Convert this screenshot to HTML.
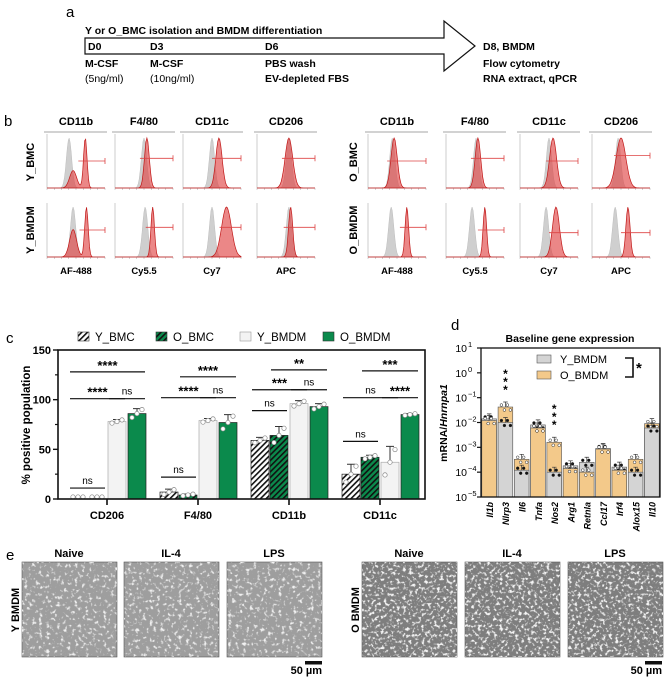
<!DOCTYPE html>
<html><head><meta charset="utf-8"><style>
body{margin:0;background:#fff;}
svg{display:block;font-family:"Liberation Sans",Arial,sans-serif;}
.b{font-weight:bold}
</style></head><body>
<svg id="fig" width="669" height="685" viewBox="0 0 669 685" xmlns="http://www.w3.org/2000/svg">
<defs>
<pattern id="hatchW" patternUnits="userSpaceOnUse" width="4" height="4" patternTransform="rotate(45)"><rect width="4" height="4" fill="#fff"/><rect width="1.6" height="4" fill="#111"/></pattern>
<pattern id="hatchG" patternUnits="userSpaceOnUse" width="4" height="4" patternTransform="rotate(45)"><rect width="4" height="4" fill="#0b8a4c"/><rect width="1.6" height="4" fill="#111"/></pattern>
<filter id="cellsY" x="0" y="0" width="1" height="1"><feTurbulence type="fractalNoise" baseFrequency="0.28" numOctaves="2" seed="3"/><feColorMatrix type="matrix" values="0 0 0 0 0.88  0 0 0 0 0.88  0 0 0 0 0.88  4.5 0 0 0 -2.5"/><feComposite in2="SourceGraphic" operator="in"/></filter>
<filter id="cellsO" x="0" y="0" width="1" height="1"><feTurbulence type="fractalNoise" baseFrequency="0.32" numOctaves="2" seed="7"/><feColorMatrix type="matrix" values="0 0 0 0 0.9  0 0 0 0 0.9  0 0 0 0 0.9  5 0 0 0 -2.6"/><feComposite in2="SourceGraphic" operator="in"/></filter>
</defs>

<g>
<text x="66" y="17" font-size="15">a</text>
<text x="85" y="34" font-size="10.5" class="b">Y or O_BMC isolation and BMDM differentiation</text>
<path d="M85,38 L444,38 L444,21 L475,46 L444,71 L444,54 L85,54 Z" fill="#fff" stroke="#111" stroke-width="1.2"/>
<g font-size="10.5" class="b">
<text x="88" y="50">D0</text><text x="150" y="50">D3</text><text x="265" y="50">D6</text><text x="483" y="50">D8, BMDM</text>
<text x="85" y="67">M-CSF</text><text x="150" y="67">M-CSF</text><text x="265" y="67">PBS wash</text><text x="483" y="67">Flow cytometry</text>
<text x="85" y="82" font-weight="normal">(5ng/ml)</text><text x="150" y="82" font-weight="normal">(10ng/ml)</text><text x="265" y="82">EV-depleted FBS</text><text x="483" y="82">RNA extract, qPCR</text>
</g>
</g>

<g id="panelB">
<text x="4" y="126" font-size="15">b</text>
</g>
<g id="panelC">
<text x="6" y="343" font-size="15">c</text>
</g>
<g id="panelD">
<text x="451" y="330" font-size="15">d</text>
</g>
<g id="panelE">
<text x="6" y="560" font-size="15">e</text>
</g>
</svg>
<script>
const NS="http://www.w3.org/2000/svg";
function mk(parent,tag,attrs,txt){const e=document.createElementNS(NS,tag);for(const k in attrs)e.setAttribute(k,attrs[k]);if(txt!==undefined)e.textContent=txt;parent.appendChild(e);return e;}

/* ---------- Panel b ---------- */
const bMarkers=["CD11b","F4/80","CD11c","CD206"];
const bChannels=["AF-488","Cy5.5","Cy7","APC"];
const bRowsLeft=["Y_BMC","Y_BMDM"];
const bRowsRight=["O_BMC","O_BMDM"];
const bGrayPos=[[0.38,0.5,0.5,0.55],[0.45,0.52,0.5,0.55],[0.42,0.52,0.5,0.45],[0.4,0.45,0.45,0.4]];
const bRedPos=[[0.66,0.55,0.62,0.55],[0.68,0.65,0.75,0.58],[0.45,0.55,0.57,0.5],[0.67,0.67,0.62,0.62]];
const bRedWidth=[[0.05,0.07,0.09,0.11],[0.05,0.05,0.14,0.06],[0.09,0.08,0.1,0.14],[0.05,0.05,0.1,0.06]];
const bRedSecond=[[0.45,0.35],null,null,null,[0.45,0.55],null,null,null];
const bGateY=[[0.5,0.45,0.45,0.45],[0.5,0.45,0.45,0.45],[0.5,0.45,0.5,0.4],[0.45,0.5,0.55,0.55]];
const bG=document.getElementById("panelB");
function hist(x0,y0,w,h,gp,rp,rw,sec,gate,key){
  const g=mk(bG,"g",{});
  
  
  mk(g,"line",{x1:x0,y1:y0,x2:x0,y2:y0+h,stroke:"#aaa","stroke-width":0.6});
  mk(g,"line",{x1:x0,y1:y0+h,x2:x0+w,y2:y0+h,stroke:"#aaa","stroke-width":0.6});
  for(let i=0;i<=8;i++)mk(g,"line",{x1:x0+i*w/8,y1:y0+h,x2:x0+i*w/8,y2:y0+h+2,stroke:"#aaa","stroke-width":0.5});
  function curve(fn){let d=`M${x0},${y0+h}`;for(let i=0;i<=60;i++){const t=i/60;d+=` L${(x0+t*w).toFixed(1)},${(y0+h-fn(t)*(h-4)).toFixed(1)}`;}return d+` L${x0+w},${y0+h} Z`;}
  mk(g,"path",{d:curve(t=>Math.exp(-((t-gp)**2)/(2*0.045**2))),fill:"#cfcfcf",stroke:"#bdbdbd","stroke-width":0.5});
  mk(g,"path",{d:curve(t=>{let v=Math.exp(-((t-rp)**2)/(2*rw**2));if(sec)v+=sec[1]*Math.exp(-((t-sec[0])**2)/(2*0.06**2));return Math.min(v,1);}),fill:"rgba(225,70,70,0.65)",stroke:"#c01818","stroke-width":0.7});
  const gy=y0+h*gate;
  mk(g,"line",{x1:x0+w*(rp-0.12),y1:gy,x2:x0+w,y2:gy,stroke:"#d44","stroke-width":0.8});
  mk(g,"line",{x1:x0+w,y1:gy-3,x2:x0+w,y2:gy+3,stroke:"#d44","stroke-width":0.8});
}
function bHalf(xs,rows,rowLabelX,offIdx){
  bMarkers.forEach((m,c)=>{
    const t=mk(bG,"text",{x:xs[c]+29,y:125,"font-size":11,"text-anchor":"middle","font-weight":"bold"},m);
    
    
    const l=mk(bG,"line",{x1:xs[c]-3,y1:132,x2:xs[c]+60,y2:132,stroke:"#888","stroke-width":0.8});
    
    
    const ch=mk(bG,"text",{x:xs[c]+29,y:274,"font-size":9.5,"text-anchor":"middle","font-weight":"bold"},bChannels[c]);
    
    
  });
  rows.forEach((r,ri)=>{
    const cy=ri===0?162:230;
    const t=mk(bG,"text",{x:rowLabelX,y:cy,"font-size":11,"text-anchor":"middle","font-weight":"bold",transform:`rotate(-90 ${rowLabelX} ${cy})`},r);
    
    
    const y0=ri===0?134:203;
    bMarkers.forEach((m,c)=>{
      const k=offIdx+ri;
      hist(xs[c],y0,58,54,bGrayPos[k][c],bRedPos[k][c],bRedWidth[k][c]*0.6,bRedSecond[k*4+c]||null,bGateY[k][c],'histogram-'+r.toLowerCase()+'-'+m.toLowerCase().replace('/',''));
    });
  });
}
bHalf([47,115,183,257],bRowsLeft,34,0);
bHalf([368,446,520,592],bRowsRight,357,2);

/* ---------- Panel c ---------- */
const cCategories=["CD206","F4/80","CD11b","CD11c"];
const cSeries=["Y_BMC","O_BMC","Y_BMDM","O_BMDM"];
const cYBMC=[0,7,59,25];
const cOBMC=[0,4,64,42];
const cYBMDM=[78,79,96,37];
const cOBMDM=[86,77,93,85];
const cErrYBMC=[0,3,3,10];
const cErrOBMC=[0,1,9,2];
const cErrYBMDM=[2,2,3,16];
const cErrOBMDM=[5,8,3,1];
const cYTicks=[0,50,100,150];
const cG=document.getElementById("panelC");
const cy0=499, cy1=350, cx0=58, cx1=425;
const cY=v=>cy0-(v/150)*(cy0-cy1);
const cX=i=>107+i*91;
const cOff=[-38,-19,1,21];
const cFills=["url(#hatchW)","url(#hatchG)","#f3f3f3","#0b8a4c"];
const cVals=[cYBMC,cOBMC,cYBMDM,cOBMDM];
const cErrs=[cErrYBMC,cErrOBMC,cErrYBMDM,cErrOBMDM];
cSeries.forEach((s,i)=>{
  const lx=[78,156,240,323][i];
  const r=mk(cG,"rect",{x:lx,y:332,width:11,height:9,fill:cFills[i],stroke:i===2?"#999":"#333","stroke-width":0.6});
  
  
  const t=mk(cG,"text",{x:lx+17,y:341,"font-size":11.5},s);
  
  
});
cCategories.forEach((cat,ci)=>{
  cVals.forEach((arr,si)=>{
    const v=arr[ci],x=cX(ci)+cOff[si];
    const top=cY(v+cErrs[si][ci]);
    if(cErrs[si][ci]>0){
      const e=mk(cG,"path",{d:`M${x+9},${cY(v)} V${top} M${x+5},${top} H${x+13}`,stroke:"#333","stroke-width":1,fill:"none"});
      
      
    }
    const r=mk(cG,"rect",{x:x,y:cY(v),width:18,height:Math.max(0,cy0-cY(v)),fill:cFills[si],stroke:si===2?"#aaa":"#222","stroke-width":0.7});
    
    
    [-5,0,5].forEach((dx,k)=>{
      const c=mk(cG,"circle",{cx:x+9+dx,cy:cY(v+(k-1)*cErrs[si][ci]*0.8)-(v===0?2:0),r:2.2,fill:"#fff",stroke:"#888","stroke-width":0.7});
      
      
    });
  });
});
const cf=mk(cG,"rect",{x:cx0,y:cy1,width:cx1-cx0,height:cy0-cy1,fill:"none",stroke:"#111","stroke-width":1.6});


cYTicks.forEach(t=>{
  const yy=cY(t);
  const l=mk(cG,"line",{x1:cx0-5,y1:yy,x2:cx0,y2:yy,stroke:"#111","stroke-width":1.4});
  
  
  const tx=mk(cG,"text",{x:cx0-7,y:yy+4,"font-size":11,"text-anchor":"end","font-weight":"bold"},t);
  
  
});
[25,75,125].forEach(t=>{mk(cG,"line",{x1:cx0-3,y1:cY(t),x2:cx0,y2:cY(t),stroke:"#111","stroke-width":1.2});});
cCategories.forEach((cat,ci)=>{
  mk(cG,"line",{x1:cX(ci),y1:cy0,x2:cX(ci),y2:cy0+6,stroke:"#111","stroke-width":1.6});
  const t=mk(cG,"text",{x:cX(ci),y:cy0+20,"font-size":11,"text-anchor":"middle","font-weight":"bold"},cat);
  
  
});
const yt=mk(cG,"text",{x:30,y:425,"font-size":11.5,"text-anchor":"middle","font-weight":"bold",transform:"rotate(-90 30 425)"},"% positive population");


const cSig=[[0,0,3,128,"****"],[0,0,2,101,"****"],[0,2,3,101,"ns"],[0,0,1,11,"ns"],
            [1,1,3,123,"****"],[1,0,2,102,"****"],[1,2,3,102,"ns"],[1,0,1,22,"ns"],
            [2,1,3,130,"**"],[2,0,2,110,"***"],[2,2,3,110,"ns"],[2,0,1,89,"ns"],
            [3,1,3,129,"***"],[3,0,2,102,"ns"],[3,2,3,102,"****"],[3,0,1,58,"ns"]];
cSig.forEach(s=>{
  const xa=cX(s[0])+cOff[s[1]]+1, xb=cX(s[0])+cOff[s[2]]+17, yy=cY(s[3]);
  const l=mk(cG,"line",{x1:xa,y1:yy,x2:xb,y2:yy,stroke:"#111","stroke-width":1.2});
  
  
  const star=s[4]!=="ns";
  const t=mk(cG,"text",{x:(xa+xb)/2,y:yy-(star?2:4),"font-size":star?13:10,"text-anchor":"middle","font-weight":star?"bold":"normal"},s[4]);
  
  
});

/* ---------- Panel d ---------- */
const dGenes=["Il1b","Nlrp3","Il6","Tnfa","Nos2","Arg1","Retnla","Ccl17","Irf4","Alox15","Il10"];
const dYBMDM=[0.014,0.010,0.00012,0.008,0.0001,0.00018,0.00025,0.0009,0.00016,0.0001,0.006];
const dOBMDM=[0.012,0.042,0.00033,0.006,0.0016,0.00014,0.0001,0.00085,0.00012,0.00033,0.009];
const dYTickExp=[1,0,-1,-2,-3,-4,-5];
const dG=document.getElementById("panelD");
const dx0=481,dx1=660,dyTop=348,dyBot=497;
const dY=v=>dyTop+(1-Math.log10(v))*((dyBot-dyTop)/6);
const dW=(dx1-dx0)/dGenes.length;
const tt=mk(dG,"text",{x:570,y:342,"font-size":10.5,"text-anchor":"middle","font-weight":"bold"},"Baseline gene expression");


dGenes.forEach((g,i)=>{
  const x=dx0+i*dW+0.8;
  const pair=[["#d4d4d4",dYBMDM[i],"y_bmdm"],["#f3c98a",dOBMDM[i],"o_bmdm"]].sort((a,b)=>b[1]-a[1]);
  pair.forEach(p=>{
    const r=mk(dG,"rect",{x:x,y:dY(p[1]),width:dW-1.6,height:dyBot-dY(p[1]),fill:p[0],stroke:"#555","stroke-width":0.6});
    
    
    const ex=dY(p[1])-5;
    mk(dG,"path",{d:`M${x+dW/2-0.8},${dY(p[1])} V${ex} M${x+dW/2-3},${ex} H${x+dW/2+1.5}`,stroke:"#333","stroke-width":0.7,fill:"none"});
    [-4,-1,2,5].forEach((dx,k)=>{
      const c=mk(dG,"circle",{cx:x+dW/2-0.8+dx,cy:dY(p[1])+(k%2?3:-2),r:1.4,fill:p[2]==="y_bmdm"?"#111":"#fff",stroke:"#222","stroke-width":0.5});
      
      
    });
  });
  const lx=x+dW/2+3, ly=dyBot+5;
  const t=mk(dG,"text",{x:lx,y:ly,"font-size":9,"font-style":"italic","font-weight":"bold","text-anchor":"end",transform:`rotate(-90 ${lx} ${ly})`},g);
  
  
});
const df=mk(dG,"rect",{x:dx0,y:dyTop,width:dx1-dx0,height:dyBot-dyTop,fill:"none",stroke:"#111","stroke-width":1.3});


dYTickExp.forEach(e=>{
  const yy=dY(Math.pow(10,e));
  mk(dG,"line",{x1:dx0-4,y1:yy,x2:dx0,y2:yy,stroke:"#111","stroke-width":1.2});
  const t=mk(dG,"text",{x:dx0-14,y:yy+4,"font-size":10.5,"text-anchor":"end"},"10");
  
  
  mk(dG,"text",{x:dx0-13,y:yy-1,"font-size":7.5},e===1?"1":e===0?"0":"\u2212"+(-e));
});
const dyt=mk(dG,"text",{x:447,y:423,"font-size":10.5,"text-anchor":"middle","font-weight":"bold",transform:"rotate(-90 447 423)"});


dyt.innerHTML='mRNA/<tspan font-style="italic">Hnrnpa1</tspan>';
[["#d4d4d4","Y_BMDM",355],["#f3c98a","O_BMDM",371]].forEach(l=>{
  const r=mk(dG,"rect",{x:537,y:l[2],width:14,height:8,fill:l[0],stroke:"#555","stroke-width":0.6});
  
  
  const t=mk(dG,"text",{x:560,y:l[2]+8,"font-size":11},l[1]);
  
  
});
const br=mk(dG,"path",{d:"M625,358 H633 V377 H625",stroke:"#111","stroke-width":1.6,fill:"none"});


const bs=mk(dG,"text",{x:636,y:373,"font-size":15,"font-weight":"bold"},"*");


[[1,372],[4,407]].forEach(s=>{
  const xx=dx0+(s[0]+0.5)*dW;
  [0,8,16].forEach(o=>{
    const t=mk(dG,"text",{x:xx,y:s[1]+o+6,"font-size":12,"font-weight":"bold","text-anchor":"middle"},"*");
    
    
  });
});

/* ---------- Panel e ---------- */
const eG=document.getElementById("panelE");
const eTitles=["Naive","IL-4","LPS"];
[[ [22,124,227], "Y BMDM", 15, "#9e9e9e","cellsY",322],[ [362,465,568],"O BMDM",355,"#7e7e7e","cellsO",662]].forEach((grp,gi)=>{
  grp[0].forEach((x,i)=>{
    const t=mk(eG,"text",{x:x+47,y:557,"font-size":11,"text-anchor":"middle","font-weight":"bold"},eTitles[i]);
    
    
    const r=mk(eG,"rect",{x:x,y:562,width:95,height:95,fill:grp[3],stroke:"#555","stroke-width":0.6});
    
    
    mk(eG,"rect",{x:x,y:562,width:95,height:95,fill:"#fff",filter:`url(#${grp[4]})`});
  });
  const rl=mk(eG,"text",{x:grp[2]+4,y:610,"font-size":11,"text-anchor":"middle","font-weight":"bold",transform:`rotate(-90 ${grp[2]+4} 610)`},grp[1]);
  
  
  const sb=mk(eG,"rect",{x:grp[5]-17,y:661,width:17,height:3.5,fill:"#111"});
  
  
  const st=mk(eG,"text",{x:grp[5],y:674,"font-size":11,"text-anchor":"end","font-weight":"bold"},"50 µm");
  
  
});
</script>
</body></html>
